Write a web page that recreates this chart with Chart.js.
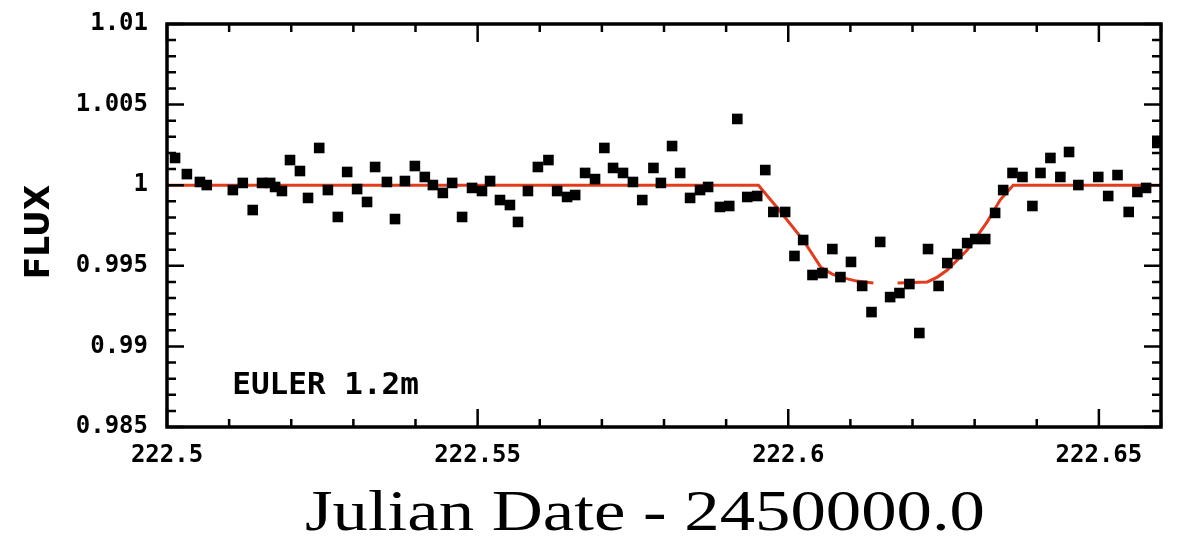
<!DOCTYPE html>
<html>
<head>
<meta charset="utf-8">
<title>EULER 1.2m light curve</title>
<script src="https://cdn.jsdelivr.net/npm/chart.js"></script>
<style>
  html, body { margin: 0; padding: 0; background: #fff; }
  canvas { display: block; }
</style>
</head>
<body>
<canvas id="lightCurve" width="1184" height="548"></canvas>
<script>
// photometry, JD - 2450000.0
const jd = [
  222.5013, 222.5032, 222.5053, 222.5064, 222.5106, 222.5122, 222.5138, 222.5153, 222.5166, 222.5174,
  222.5185, 222.5198, 222.5214, 222.5227, 222.5245, 222.5259, 222.5275, 222.5290, 222.5306, 222.5322,
  222.5335, 222.5354, 222.5367, 222.5383, 222.5399, 222.5415, 222.5428, 222.5444, 222.5459, 222.5475,
  222.5491, 222.5507, 222.5520, 222.5536, 222.5552, 222.5565, 222.5581, 222.5597, 222.5614, 222.5628,
  222.5644, 222.5657, 222.5673, 222.5689, 222.5704, 222.5718, 222.5734, 222.5750, 222.5765, 222.5783,
  222.5795, 222.5813, 222.5826, 222.5842, 222.5858, 222.5871, 222.5890, 222.5905, 222.5918, 222.5934,
  222.5950, 222.5963, 222.5976, 222.5995, 222.6010, 222.6024, 222.6039, 222.6055, 222.6071, 222.6084,
  222.6101, 222.6119, 222.6134, 222.6148, 222.6164, 222.6179, 222.6195, 222.6211, 222.6225, 222.6242,
  222.6256, 222.6272, 222.6288, 222.6301, 222.6317, 222.6333, 222.6346, 222.6361, 222.6377, 222.6393,
  222.6406, 222.6422, 222.6438, 222.6452, 222.6467, 222.6499, 222.6515, 222.6530, 222.6548, 222.6562,
  222.6576, 222.6594
];
const flux = [
  1.00169, 1.00069, 1.00020, 1.00001, 0.99970, 1.00014, 0.99846, 1.00014, 1.00014, 0.99989,
  0.99964, 1.00156, 1.00088, 0.99921, 1.00231, 0.99970, 0.99803, 1.00082, 0.99976, 0.99896,
  1.00113, 1.00020, 0.99790, 1.00026, 1.00119, 1.00051, 1.00001, 0.99952, 1.00014, 0.99803,
  0.99983, 0.99964, 1.00026, 0.99908, 0.99877, 0.99772, 0.99964, 1.00113, 1.00156, 0.99964,
  0.99927, 0.99939, 1.00076, 1.00038, 1.00231, 1.00107, 1.00076, 1.00020, 0.99908, 1.00107,
  1.00014, 1.00243, 1.00076, 0.99921, 0.99970, 0.99989, 0.99865, 0.99871, 1.00411, 0.99927,
  0.99933, 1.00094, 0.99834, 0.99834, 0.99561, 0.99660, 0.99443, 0.99455, 0.99604, 0.99430,
  0.99524, 0.99375, 0.99213, 0.99648, 0.99306, 0.99331, 0.99387, 0.99083, 0.99604, 0.99375,
  0.99517, 0.99573, 0.99641, 0.99666, 0.99666, 0.99828, 0.99970, 1.00076, 1.00051, 0.99871,
  1.00076, 1.00169, 1.00051, 1.00206, 1.00001, 1.00051, 0.99933, 1.00063, 0.99834, 0.99958,
  0.99983, 1.00262
];

// transit model (null leaves the gap near mid-transit)
const modelJd   = [222.5, 222.5952, 222.5983, 222.6024, 222.6052, 222.6070, 222.6084, 222.6110, 222.6137, 222.6155,
                   222.6176, 222.6224, 222.6240, 222.6256, 222.6288, 222.6320, 222.6341, 222.6362, 222.66];
const modelFlux = [1.0, 1.0, 0.99857, 0.99660, 0.99493, 0.99450, 0.99430, 0.99405, 0.99393, null,
                   0.99393, 0.99400, 0.99430, 0.99474, 0.99598, 0.99771, 0.99908, 1.0, 1.0];

const xTicks = [222.5, 222.55, 222.6, 222.65];
const yTicks = [0.985, 0.99, 0.995, 1, 1.005, 1.01];

const tickFont = { family: 'DejaVu Sans Mono', size: 24, weight: 'bold' };

// boxed frame with inward ticks on all four sides, plus the text labels
const framePlugin = {
  id: 'frame',
  afterDraw(chart) {
    const { ctx, chartArea: a, scales: { x, y } } = chart;
    ctx.save();
    ctx.strokeStyle = '#000';
    ctx.lineCap = 'butt';

    ctx.lineWidth = 2.5;
    for (let k = 0; k <= 25; k++) {
      const py = y.getPixelForValue(0.985 + k * 0.001);
      const len = k % 5 === 0 ? 17 : 9;
      ctx.beginPath();
      ctx.moveTo(a.left, py); ctx.lineTo(a.left + len, py);
      ctx.moveTo(a.right, py); ctx.lineTo(a.right - len, py);
      ctx.stroke();
    }
    for (let k = 0; k <= 16; k++) {
      const px = x.getPixelForValue(222.5 + k * 0.01);
      if (px > a.right) break;
      const len = k % 5 === 0 ? 18 : 8;
      ctx.beginPath();
      ctx.moveTo(px, a.bottom); ctx.lineTo(px, a.bottom - len);
      ctx.moveTo(px, a.top); ctx.lineTo(px, a.top + len);
      ctx.stroke();
    }

    ctx.lineWidth = 3.5;
    ctx.strokeRect(a.left, a.top, a.right - a.left, a.bottom - a.top);

    ctx.fillStyle = '#000';
    ctx.font = 'bold 31px "DejaVu Sans Mono"';
    ctx.textAlign = 'left';
    ctx.textBaseline = 'middle';
    ctx.fillText('EULER 1.2m', x.getPixelForValue(222.5105), y.getPixelForValue(0.98754));

    // y title
    ctx.save();
    ctx.translate(40, 232);
    ctx.rotate(-Math.PI / 2);
    ctx.font = 'bold 33px "DejaVu Sans"';
    ctx.textAlign = 'center';
    ctx.fillText('FLUX', 0, 0);
    ctx.restore();

    // x title
    const xt = 'Julian Date - 2450000.0';
    ctx.font = '58px "Liberation Serif"';
    const w = ctx.measureText(xt).width;
    ctx.save();
    ctx.translate(645, 530);
    ctx.scale(680 / w, 1);
    ctx.textAlign = 'center';
    ctx.textBaseline = 'alphabetic';
    ctx.fillText(xt, 0, 0);
    ctx.restore();

    ctx.restore();
  }
};

const fmt = v => String(parseFloat(Number(v).toFixed(4)));

// keep the plot box fixed: tick labels may overhang the layout padding
const noOverhang = s => {
  s.paddingTop = 0; s.paddingBottom = 0; s.paddingLeft = 0; s.paddingRight = 0;
};

new Chart(document.getElementById('lightCurve').getContext('2d'), {
  type: 'scatter',
  data: {
    datasets: [
      {
        label: 'EULER 1.2m',
        data: jd.map((t, i) => ({ x: t, y: flux[i] })),
        pointStyle: 'rect',
        pointRadius: 7.5,
        pointHoverRadius: 7.5,
        backgroundColor: '#000',
        borderColor: '#000',
        borderWidth: 0
      },
      {
        type: 'line',
        label: 'model',
        data: modelJd.map((t, i) => ({ x: t, y: modelFlux[i] })),
        borderColor: '#e23c1c',
        borderWidth: 3,
        pointRadius: 0,
        spanGaps: false,
        tension: 0
      }
    ]
  },
  options: {
    responsive: false,
    animation: false,
    events: [],
    layout: { padding: { left: 0, right: 23, top: 24, bottom: 0 } },
    plugins: { legend: { display: false }, tooltip: { enabled: false } },
    scales: {
      x: {
        type: 'linear',
        min: 222.5,
        max: 222.66,
        afterBuildTicks: s => { s.ticks = xTicks.map(v => ({ value: v })); },
        afterFit: s => { s.height = 121; noOverhang(s); },
        grid: { display: false, drawTicks: false },
        border: { display: false },
        ticks: { autoSkip: false, maxRotation: 0, padding: 14, color: '#000', font: tickFont, callback: fmt }
      },
      y: {
        min: 0.985,
        max: 1.01,
        afterBuildTicks: s => { s.ticks = yTicks.map(v => ({ value: v })); },
        afterFit: s => { s.width = 167; noOverhang(s); },
        grid: { display: false, drawTicks: false },
        border: { display: false },
        ticks: { autoSkip: false, padding: 19, color: '#000', font: tickFont, callback: fmt }
      }
    }
  },
  plugins: [framePlugin]
});
</script>
</body>
</html>
